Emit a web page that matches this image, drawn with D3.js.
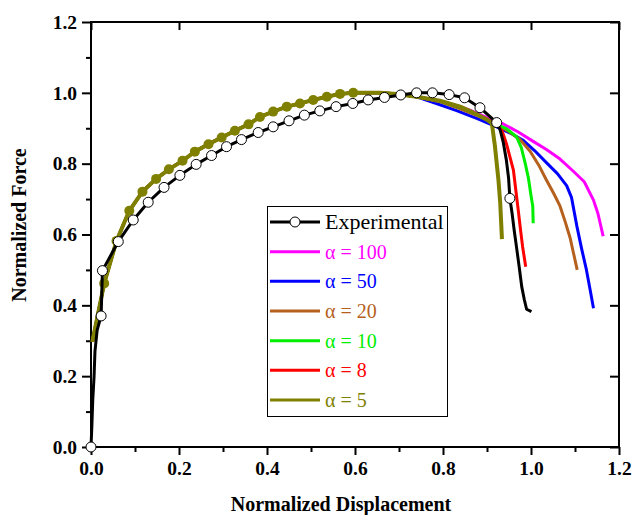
<!DOCTYPE html>
<html>
<head>
<meta charset="utf-8">
<title>Normalized Force vs Displacement</title>
<script src="https://cdn.jsdelivr.net/npm/d3@7"></script>
<style>
  body { margin: 0; background: #fff; }
  svg text { font-family: "Liberation Serif", "Times New Roman", serif; }
</style>
</head>
<body>
<script>
// experimental curve (line) and the points that carry open markers
var expLine = [[0,0],[0.002,0.06],[0.004,0.133],[0.007,0.2],[0.009,0.27],[0.014,0.33],[0.023,0.37],[0.026,0.498],
  [0.062,0.58],[0.096,0.641],[0.130,0.691],[0.166,0.733],[0.202,0.767],[0.239,0.798],[0.274,0.823],[0.308,0.848],
  [0.342,0.868],[0.380,0.888],[0.414,0.904],[0.45,0.921],[0.485,0.937],[0.52,0.949],[0.557,0.961],[0.595,0.970],
  [0.630,0.980],[0.667,0.987],[0.704,0.994],[0.740,1.0],[0.776,1.0],[0.814,0.995],[0.849,0.986],[0.884,0.958],
  [0.922,0.916],[0.93,0.895],[0.937,0.86],[0.944,0.81],[0.949,0.76],[0.952,0.702],[0.957,0.66],[0.962,0.61],
  [0.967,0.565],[0.973,0.51],[0.979,0.452],[0.985,0.415],[0.99,0.389],[1.001,0.382]];
var expMarkers = [[0,0],[0.023,0.37],[0.026,0.498],[0.062,0.58],[0.096,0.641],[0.130,0.691],[0.166,0.733],
  [0.202,0.767],[0.239,0.798],[0.274,0.823],[0.308,0.848],[0.342,0.868],[0.380,0.888],[0.414,0.904],[0.45,0.921],
  [0.485,0.937],[0.52,0.949],[0.557,0.961],[0.595,0.970],[0.630,0.980],[0.667,0.987],[0.704,0.994],[0.740,1.0],
  [0.776,1.0],[0.814,0.995],[0.849,0.986],[0.884,0.958],[0.922,0.916],[0.952,0.702]];

// rising part shared by all model curves (points also carry the olive dots up to 0.6)
var modelBase = [[0.003,0.297],[0.03,0.462],[0.058,0.582],[0.087,0.667],[0.117,0.721],[0.148,0.757],[0.177,0.784],
  [0.208,0.808],[0.236,0.834],[0.267,0.855],[0.297,0.874],[0.327,0.893],[0.358,0.911],[0.384,0.932],[0.414,0.947],
  [0.445,0.961],[0.475,0.970],[0.505,0.980],[0.536,0.989],[0.566,0.997],[0.596,1.0],[0.627,1.0],[0.657,1.0],
  [0.695,0.997],[0.740,0.989]];
var dotsUpTo = 0.6;

var tail100 = [[0.793,0.978],[0.839,0.961],[0.861,0.951],[0.90,0.93],[0.937,0.912],[0.970,0.89],[1.005,0.863],
  [1.035,0.84],[1.066,0.813],[1.095,0.78],[1.121,0.749],[1.142,0.697],[1.152,0.66],[1.164,0.595]];
var tail50 = [[0.785,0.970],[0.831,0.950],[0.878,0.927],[0.922,0.904],[0.955,0.885],[0.983,0.865],[1.008,0.837],
  [1.035,0.803],[1.060,0.772],[1.081,0.738],[1.092,0.705],[1.104,0.625],[1.115,0.56],[1.126,0.50],[1.135,0.44],[1.142,0.392]];
var tail20 = [[0.793,0.975],[0.839,0.955],[0.88,0.935],[0.92,0.912],[0.95,0.89],[0.975,0.868],[0.998,0.835],
  [1.018,0.795],[1.035,0.754],[1.052,0.715],[1.066,0.68],[1.078,0.635],[1.089,0.59],[1.097,0.545],[1.105,0.5]];
var tail10 = [[0.793,0.976],[0.839,0.958],[0.88,0.937],[0.92,0.912],[0.944,0.899],[0.967,0.876],[0.978,0.845],
  [0.987,0.80],[0.994,0.76],[1.0,0.71],[1.004,0.68],[1.005,0.632]];
var tail8 = [[0.793,0.977],[0.839,0.959],[0.88,0.937],[0.922,0.912],[0.935,0.89],[0.944,0.857],[0.953,0.815],
  [0.96,0.782],[0.966,0.72],[0.971,0.669],[0.976,0.615],[0.981,0.565],[0.988,0.509]];
var tail5 = [[0.793,0.978],[0.839,0.961],[0.869,0.944],[0.899,0.925],[0.911,0.914],[0.918,0.85],[0.926,0.754],
  [0.930,0.69],[0.934,0.587]];

var alphaLabels = ["100", "50", "20", "10", "8", "5"];
var alphaTails = [tail100, tail50, tail20, tail10, tail8, tail5];
var alphaColors = ["#ff00ff", "#0000ff", "#b5601c", "#00ee00", "#ff0000", "#808000"];

var xTicks = [0, 0.2, 0.4, 0.6, 0.8, 1.0, 1.2];
var yTicks = [0, 0.2, 0.4, 0.6, 0.8, 1.0, 1.2];

var W = 632, H = 515;
var margin = {left: 91, right: 13, top: 22, bottom: 68};

var svg = d3.select("body").append("svg")
    .attr("width", W)
    .attr("height", H);

var x = d3.scaleLinear().domain([0, 1.2]).range([margin.left, W - margin.right]);
var y = d3.scaleLinear().domain([0, 1.2]).range([H - margin.bottom, margin.top]);

var minor = d3.range(0.1, 1.2, 0.2);

// minor ticks (left and bottom only)
svg.append("g")
    .attr("transform", "translate(0," + y(0) + ")")
    .call(d3.axisBottom(x).tickValues(minor).tickSize(5).tickFormat(""));
svg.append("g")
    .attr("transform", "translate(" + x(0) + ",0)")
    .call(d3.axisLeft(y).tickValues(minor).tickSize(5).tickFormat(""));

var fmt = d3.format(".1f");
svg.append("g")
    .attr("transform", "translate(0," + y(0) + ")")
    .call(d3.axisBottom(x).tickValues(xTicks).tickSize(8).tickPadding(6).tickFormat(fmt));
svg.append("g")
    .attr("transform", "translate(" + x(0) + ",0)")
    .call(d3.axisLeft(y).tickValues(yTicks).tickSize(9).tickPadding(5).tickFormat(fmt));
// top and right: ticks point inward, no labels
svg.append("g")
    .attr("transform", "translate(0," + y(1.2) + ")")
    .call(d3.axisTop(x).tickValues(xTicks).tickSize(-8).tickFormat(""));
svg.append("g")
    .attr("transform", "translate(" + x(1.2) + ",0)")
    .call(d3.axisRight(y).tickValues(yTicks).tickSize(-9).tickFormat(""));

svg.selectAll(".tick line").attr("stroke", "#000").attr("stroke-width", 2);
svg.selectAll(".domain").remove();
svg.selectAll(".tick text")
    .attr("fill", "#000")
    .style("font-size", "19.5px")
    .style("font-weight", "bold");

// frame
svg.append("rect")
    .attr("x", x(0)).attr("y", y(1.2))
    .attr("width", x(1.2) - x(0)).attr("height", y(0) - y(1.2))
    .attr("fill", "none").attr("stroke", "#000").attr("stroke-width", 2);

var line = d3.line().x(function (d) { return x(d[0]); }).y(function (d) { return y(d[1]); });

// model curves, drawn so that alpha = 5 ends on top
alphaTails.forEach(function (tail, i) {
  var isLast = i === alphaTails.length - 1;
  svg.append("path")
      .datum(modelBase.concat(tail))
      .attr("d", line)
      .attr("fill", "none")
      .attr("stroke", alphaColors[i])
      .attr("stroke-width", isLast ? 4 : 3)
      .attr("stroke-linejoin", "round");
});

svg.selectAll(".dot5")
    .data(modelBase.filter(function (d) { return d[0] <= dotsUpTo && d[0] > 0.01; }))
  .enter().append("circle")
    .attr("cx", function (d) { return x(d[0]); })
    .attr("cy", function (d) { return y(d[1]); })
    .attr("r", 5)
    .attr("fill", alphaColors[5]);

// experimental
svg.append("path")
    .datum(expLine)
    .attr("d", line)
    .attr("fill", "none")
    .attr("stroke", "#000")
    .attr("stroke-width", 3)
    .attr("stroke-linejoin", "round");
svg.selectAll(".expDot")
    .data(expMarkers)
  .enter().append("circle")
    .attr("cx", function (d) { return x(d[0]); })
    .attr("cy", function (d) { return y(d[1]); })
    .attr("r", 5)
    .attr("fill", "#fff")
    .attr("stroke", "#000")
    .attr("stroke-width", 1);

// legend
var legend = svg.append("g");
legend.append("rect")
    .attr("x", 267.5).attr("y", 206.5).attr("width", 180).attr("height", 210)
    .attr("fill", "#fff").attr("stroke", "#000").attr("stroke-width", 1);

var rowY = d3.scaleLinear().domain([0, 6]).range([222, 400]);
legend.append("line")
    .attr("x1", 270).attr("x2", 320).attr("y1", rowY(0)).attr("y2", rowY(0))
    .attr("stroke", "#000").attr("stroke-width", 3);
legend.append("circle")
    .attr("cx", 295).attr("cy", rowY(0)).attr("r", 5)
    .attr("fill", "#fff").attr("stroke", "#000").attr("stroke-width", 1);
legend.append("text")
    .attr("x", 325).attr("y", rowY(0) + 7)
    .style("font-size", "22px")
    .text("Experimental");

alphaLabels.forEach(function (a, i) {
  var yy = rowY(i + 1);
  legend.append("line")
      .attr("x1", 270).attr("x2", 320).attr("y1", yy).attr("y2", yy)
      .attr("stroke", alphaColors[i]).attr("stroke-width", 3);
  legend.append("text")
      .attr("x", 325).attr("y", yy + 7)
      .attr("fill", alphaColors[i])
      .style("font-size", "20px")
      .text("\u03b1 = " + a);
});

// axis titles
svg.append("text")
    .attr("x", 341).attr("y", 511)
    .attr("text-anchor", "middle")
    .style("font-size", "20px").style("font-weight", "bold")
    .text("Normalized Displacement");
svg.append("text")
    .attr("transform", "translate(26,225) rotate(-90)")
    .attr("text-anchor", "middle")
    .style("font-size", "20px").style("font-weight", "bold")
    .text("Normalized Force");
</script>
</body>
</html>
